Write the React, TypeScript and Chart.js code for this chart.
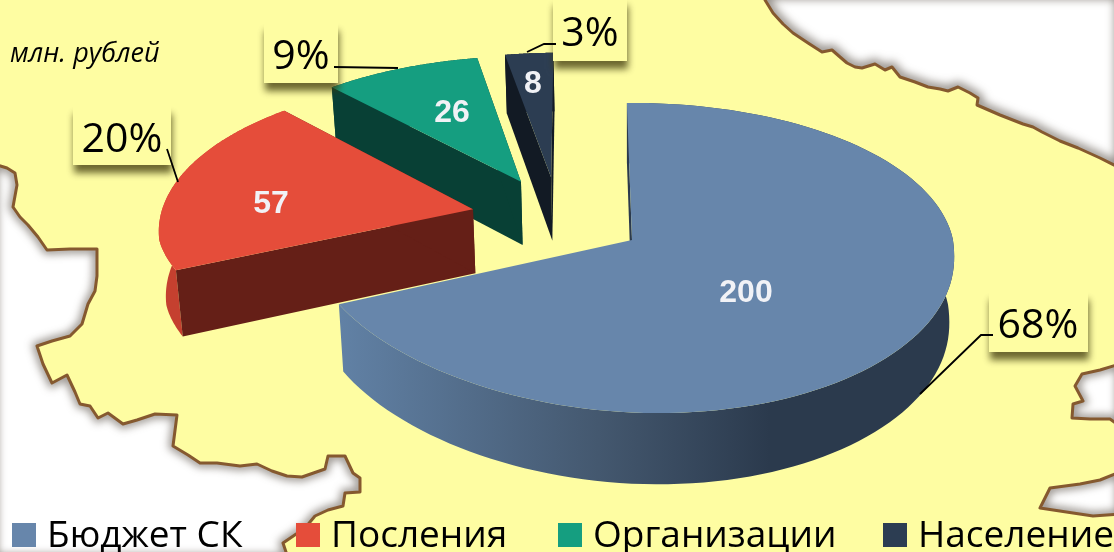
import React, { useEffect, useRef } from "react";
import { Chart, registerables } from "chart.js";

Chart.register(...registerables);

const categories = ["Бюджет СК", "Посления", "Организации", "Население"];
const values = [200, 57, 26, 8];
const percentLabels = ["68%", "20%", "9%", "3%"];
const unitLabel = "млн. рублей";

const topColors = ["#6786ab", "#e54d3a", "#159e80", "#2c3d52"];
const cutColors = ["#2b3a4d", "#651f17", "#084035", "#121a24"];
const rimColors = ["", "#c5402f", "#0b4a3c", "#121a24"];

// Map background outlines (decorative, not data)
const mapTopRight = [[764,-6],[765,0],[773,13],[783,24],[793,33],[808,43],[822,52],[832,50],[840,57],[847,63],[855,67],[862,68],[875,64],[885,70],[892,67],[900,77],[915,82],[928,87],[940,89],[948,91],[958,87],[970,93],[978,98],[977,105],[1000,115],[1023,124],[1033,127],[1042,132],[1060,141],[1078,148],[1100,158],[1120,168],[1120,-6]];
const mapLeft = [[-6,164],[7,168],[15,173],[17,185],[13,207],[20,217],[28,225],[38,237],[47,250],[70,249],[97,249],[97,276],[95,291],[88,304],[82,324],[70,336],[52,341],[37,346],[43,364],[52,383],[67,375],[75,392],[80,404],[90,406],[98,418],[108,413],[123,424],[137,420],[155,414],[177,415],[173,446],[188,455],[200,463],[217,463],[240,466],[257,464],[272,471],[287,476],[302,477],[325,469],[328,456],[345,456],[353,473],[360,478],[360,492],[345,493],[343,506],[328,510],[315,516],[305,528],[283,543],[288,558],[-6,558]];
const mapIslandA = [[1120,364],[1100,370],[1082,374],[1075,386],[1083,401],[1073,404],[1072,418],[1090,419],[1110,419],[1120,426]];
const mapIslandB = [[1120,472],[1100,480],[1080,484],[1050,488],[1040,508],[1073,513],[1093,516],[1120,514]];

const YELLOW = "#fefda2";

function tracePts(ctx: CanvasRenderingContext2D, pts: number[][], close: boolean) {
  ctx.beginPath();
  pts.forEach((p, i) => (i ? ctx.lineTo(p[0], p[1]) : ctx.moveTo(p[0], p[1])));
  if (close) ctx.closePath();
}

function drawRegion(ctx: CanvasRenderingContext2D, pts: number[][], shadow: number) {
  ctx.save();
  tracePts(ctx, pts, true);
  ctx.fillStyle = "#ffffff";
  ctx.fill();
  ctx.clip();
  ctx.filter = `blur(${shadow}px)`;
  ctx.strokeStyle = "rgba(70,60,50,0.6)";
  ctx.lineWidth = shadow * 2;
  tracePts(ctx, pts, true);
  ctx.stroke();
  ctx.restore();
  ctx.save();
  ctx.strokeStyle = "#85592f";
  ctx.lineWidth = 3;
  ctx.lineJoin = "round";
  tracePts(ctx, pts, true);
  ctx.stroke();
  ctx.restore();
}

const mapPlugin = {
  id: "mapBackground",
  beforeDraw(chart: any) {
    const ctx = chart.ctx;
    ctx.save();
    ctx.fillStyle = YELLOW;
    ctx.fillRect(0, 0, chart.width, chart.height);
    drawRegion(ctx, mapTopRight, 5);
    drawRegion(ctx, mapLeft, 4);
    drawRegion(ctx, mapIslandA, 4);
    drawRegion(ctx, mapIslandB, 4);
    ctx.restore();
  },
};

// Perspective of the tilted pie plane
const view = { X0: 632, Y0: 240, a: 321, b: 153, k: 0.116, kBack: 0.1, kFront: 0.06, farLeft: 0.01, skew: 35 };

const pieBoxes = [
  { box: [989, 292, 99, 60], text: [1038, 338], line: [[920, 394], [981, 335], [993, 335]] },
  { box: [73, 106, 98, 59], text: [122, 152], line: [[167, 149], [178, 182]] },
  { box: [264, 23, 74, 60], text: [301, 69], line: [[334, 67], [398, 68]] },
  { box: [553, -2, 74, 63], text: [590, 46], line: [[527, 52], [544, 44], [556, 44]] },
];
const valueAnchors = [[746, 293], [271, 204], [452, 113], [533, 84]];
const legendBoxes = [12, 296, 558, 883];
const legendTexts = [47, 331, 593, 918];

const piePlugin = {
  id: "tiltedPie",
  beforeDatasetsDraw(chart: any) {
    const ctx: CanvasRenderingContext2D = chart.ctx;
    const arcs = chart.getDatasetMeta(0).data;
    const offsetOf = (el: any) => {
      const p = el.getProps(["startAngle", "endAngle", "outerRadius"], true);
      const mid = (p.startAngle + p.endAngle) / 2;
      const off = el.options.offset / p.outerRadius;
      return { ...p, ox: Math.cos(mid) * off, oy: Math.sin(mid) * off };
    };
    const first = offsetOf(arcs[0]);
    const project = (u: number, v: number) => {
      const du = u - first.ox;
      const dv = v - first.oy;
      const far = Math.max(0, -du - 0.6);
      const wx = 1 - (dv < 0 ? view.kBack : view.kFront) * dv + view.farLeft * far * far;
      const wy = 1 - view.k * dv;
      const skew = dv > 0 ? (view.skew * dv * dv) / (dv + 0.3) : 0;
      return [view.X0 + (view.a * du) / wx + skew, view.Y0 + (view.b * dv) / wy];
    };
    const lower = (p: number[]) => [630 + (p[0] - 630) * 0.985, p[1] + 62 + (p[1] - 150) * 0.035];
    const poly = (pts: number[][], fill: any) => {
      tracePts(ctx, pts, true);
      ctx.fillStyle = fill;
      ctx.fill();
    };

    ctx.save();
    for (let i = arcs.length - 1; i >= 0; i--) {
      const s = offsetOf(arcs[i]);
      const apex = project(s.ox, s.oy);
      const rim: number[][] = [];
      const steps = 120;
      for (let j = 0; j <= steps; j++) {
        const t = s.startAngle + ((s.endAngle - s.startAngle) * j) / steps;
        rim.push(project(s.ox + Math.cos(t), s.oy + Math.sin(t)));
      }
      const rimLow = rim.map(lower).reverse();
      let rimFill: any = rimColors[i];
      if (i === 0) {
        const g = ctx.createLinearGradient(340, 0, 770, 0);
        g.addColorStop(0, "#6181a5");
        g.addColorStop(0.6, "#44586f");
        g.addColorStop(1, "#2b3a4d");
        rimFill = g;
      }
      poly(rim.concat(rimLow), rimFill);
      const apexLow = lower(apex);
      const a0 = rim[0];
      const a1 = rim[rim.length - 1];
      poly([apex, a0, lower(a0), apexLow], cutColors[i]);
      if (i > 0) poly([apex, a1, lower(a1), apexLow], cutColors[i]);
      poly([apex, ...rim], topColors[i]);
    }

    // value labels
    ctx.fillStyle = "#f1f2f6";
    ctx.font = 'bold 32px "Liberation Sans"';
    ctx.textAlign = "center";
    ctx.textBaseline = "middle";
    values.forEach((v, i) => ctx.fillText(String(v), valueAnchors[i][0], valueAnchors[i][1]));

    // percent callouts
    pieBoxes.forEach((c, i) => {
      ctx.save();
      ctx.shadowColor = "rgba(60,55,10,0.75)";
      ctx.shadowBlur = 7;
      ctx.shadowOffsetX = 1;
      ctx.shadowOffsetY = 8;
      ctx.fillStyle = YELLOW;
      ctx.fillRect(c.box[0], c.box[1], c.box[2], c.box[3]);
      ctx.restore();
      ctx.strokeStyle = "#000";
      ctx.lineWidth = 1.8;
      tracePts(ctx, c.line, false);
      ctx.stroke();
      ctx.fillStyle = "#000";
      ctx.font = '41px "Open Sans"';
      ctx.textAlign = "center";
      ctx.textBaseline = "alphabetic";
      ctx.fillText(percentLabels[i], c.text[0], c.text[1]);
    });

    // unit note
    ctx.fillStyle = "#000";
    ctx.font = 'italic 27px "Open Sans"';
    ctx.textAlign = "left";
    ctx.fillText(unitLabel, 10, 62);

    // legend
    ctx.font = '37px "Open Sans"';
    categories.forEach((name, i) => {
      ctx.fillStyle = topColors[i];
      ctx.fillRect(legendBoxes[i], 523, 24, 24);
      ctx.fillStyle = "#000";
      ctx.fillText(name, legendTexts[i], 547);
    });
    ctx.restore();
    return false;
  },
};

export default function App() {
  const ref = useRef<HTMLCanvasElement>(null);
  useEffect(() => {
    const chart = new Chart(ref.current as HTMLCanvasElement, {
      type: "pie",
      data: {
        labels: categories,
        datasets: [{ data: values, backgroundColor: topColors, offset: 67.3, borderWidth: 0 }],
      },
      options: {
        responsive: false,
        animation: false,
        rotation: -1,
        events: [],
        plugins: { legend: { display: false }, tooltip: { enabled: false } },
      },
      plugins: [mapPlugin, piePlugin],
    } as any);
    return () => chart.destroy();
  }, []);
  return (
    <div style={{ position: "fixed", left: 0, top: 0, width: 1114, height: 552, overflow: "hidden" }}>
      <canvas ref={ref} width={1114} height={552} style={{ display: "block" }} />
    </div>
  );
}
